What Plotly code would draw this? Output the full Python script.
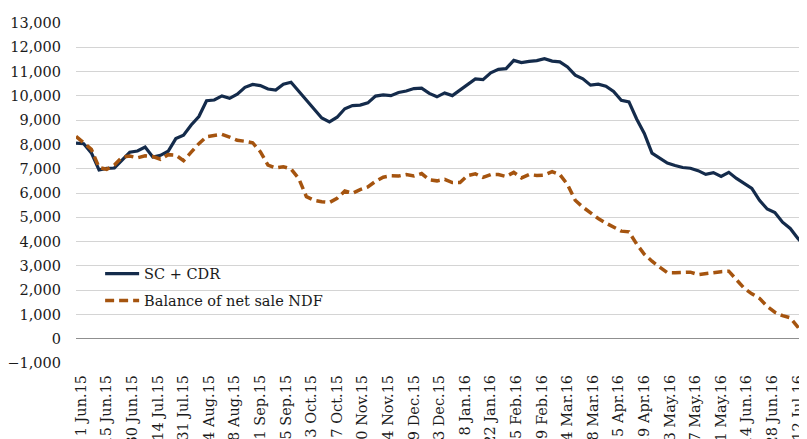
import plotly.graph_objects as go

# Category positions (business-day index relative to 1 Jun.15), sampled every 3 days
day_index = list(range(-2, 284, 3))

sc_cdr = [8050, 8030, 7650, 6950, 7015, 7030, 7350, 7680, 7730, 7890,
          7480, 7550, 7720, 8240, 8380, 8800, 9150, 9800, 9830, 10000,
          9900, 10070, 10350, 10470, 10420, 10280, 10240, 10480, 10560, 10180,
          9850, 9460, 9090, 8930, 9120, 9470, 9600, 9620, 9710, 9990,
          10040, 10010, 10140, 10200, 10300, 10320, 10100, 9960, 10120, 10010,
          10250, 10450, 10700, 10670, 10950, 11090, 11120, 11460, 11370, 11420,
          11450, 11530, 11430, 11400, 11190, 10850, 10700, 10440, 10480, 10400,
          10180, 9820, 9750, 9050, 8450, 7640, 7420, 7230, 7130, 7050,
          7020, 6920, 6768, 6840, 6680, 6850, 6600, 6380, 6190, 5700,
          5340, 5200, 4800, 4540, 4130, 3780]

ndf = [8330, 8050, 7800, 7050, 6975, 7150, 7480, 7520, 7450, 7530,
       7500, 7390, 7580, 7560, 7330, 7680, 8030, 8320, 8380, 8415,
       8300, 8170, 8130, 8070, 7700, 7150, 7030, 7080, 6990, 6600,
       5850, 5700, 5640, 5610, 5780, 6080, 5990, 6140, 6250, 6480,
       6650, 6710, 6700, 6760, 6700, 6800, 6540, 6500, 6560, 6430,
       6430, 6720, 6790, 6640, 6760, 6760, 6680, 6850, 6620, 6760,
       6720, 6740, 6880, 6760, 6350, 5700, 5420, 5170, 4950, 4760,
       4580, 4430, 4400, 3900, 3480, 3190, 2950, 2720, 2717, 2730,
       2740, 2640, 2680, 2745, 2760, 2780, 2420, 2080, 1850, 1660,
       1330, 1090, 950, 860, 480, 0]

tick_pos = list(range(0, 281, 10))
tick_labels = ["1 Jun.15", "15 Jun.15", "30 Jun.15", "14 Jul.15", "31 Jul.15",
               "14 Aug.15", "28 Aug.15", "11 Sep.15", "25 Sep.15", "13 Oct.15",
               "27 Oct.15", "10 Nov.15", "24 Nov.15", "9 Dec.15", "23 Dec.15",
               "8 Jan.16", "22 Jan.16", "5 Feb.16", "19 Feb.16", "4 Mar.16",
               "18 Mar.16", "5 Apr.16", "19 Apr.16", "3 May.16", "17 May.16",
               "31 May.16", "14 Jun.16", "28 Jun.16", "12 Jul.16"]

FONT = "DejaVu Serif"
fig = go.Figure()
fig.add_trace(go.Scatter(x=day_index, y=sc_cdr, mode="lines", name="SC + CDR",
                         legendgroup="a",
                         line=dict(color="#142B4B", width=3.2)))
fig.add_trace(go.Scatter(x=day_index, y=ndf, mode="lines", name="Balance of net sale NDF",
                         legendgroup="b",
                         line=dict(color="#A5540F", width=3.5, dash="9px,5px")))

fig.update_layout(
    width=807, height=439,
    margin=dict(l=68, r=8, t=15, b=84, autoexpand=False),
    plot_bgcolor="white", paper_bgcolor="white",
    font=dict(family=FONT, size=14.5, color="#1a1a1a"),
    showlegend=True,
    legend=dict(x=0.033, y=0.31, xanchor="left", yanchor="top",
                bgcolor="rgba(0,0,0,0)", traceorder="grouped", tracegroupgap=5,
                itemwidth=34,
                font=dict(family=FONT, size=14.5, color="#1a1a1a")),
    xaxis=dict(range=[-2, 283.55], tickmode="array", tickvals=tick_pos,
               ticktext=tick_labels, tickangle=-90, showgrid=False,
               zeroline=False, showline=False, ticks="",
               ticklabelstandoff=8, automargin=False),
    yaxis=dict(range=[-1000, 13000], dtick=1000, tickformat=",",
               showgrid=True, gridcolor="#D4D4D4", gridwidth=1,
               zeroline=True, zerolinecolor="#8F8F8F", zerolinewidth=1,
               showline=False, ticks="", ticklabelstandoff=14, automargin=False),
)

fig.write_html("out.html")
